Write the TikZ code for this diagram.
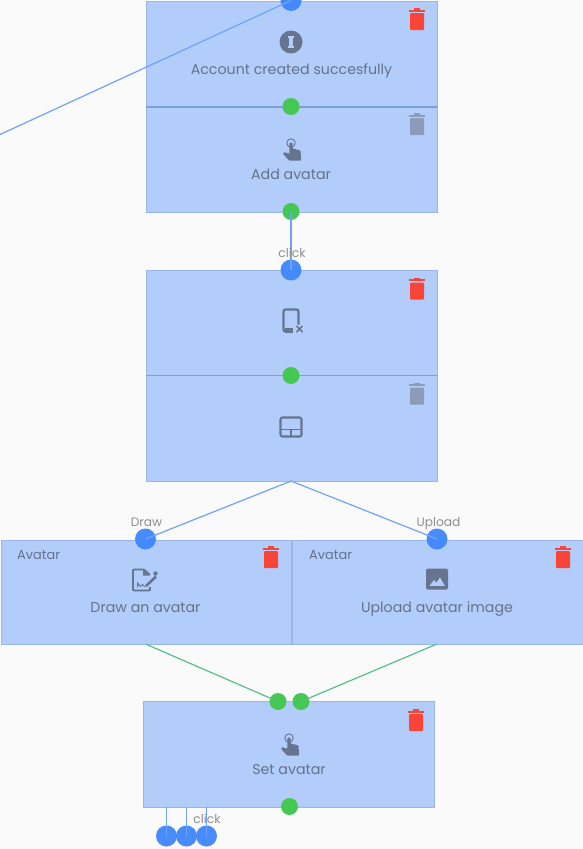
\documentclass[tikz,border=0pt]{standalone}
\usepackage{fontspec}
\setmainfont{Poppins}
\definecolor{bgc}{HTML}{FAFAFA}
\definecolor{boxfill}{HTML}{B3CDFB}
\definecolor{boxline}{HTML}{9AB6E8}
\definecolor{divline}{HTML}{7A9FDE}
\definecolor{portblue}{HTML}{3F87FD}
\definecolor{portgreen}{HTML}{44C852}
\definecolor{linkblue}{HTML}{6FA3FB}
\definecolor{linkgreen}{HTML}{56BF8A}
\definecolor{inkc}{HTML}{66718A}
\definecolor{iconc}{HTML}{66748F}
\definecolor{labelc}{HTML}{8E8E8E}
\definecolor{trashred}{HTML}{F94537}
\definecolor{trashgrey}{HTML}{8B9BB8}
\tikzset{
  x=1pt,y=-1pt,
  flowbox/.style={draw=boxline,fill=boxfill,line width=1pt,inner sep=0pt,outer sep=0pt,anchor=north west},
  divider/.style={draw=divline,line width=1.2pt},
  blueport/.style={circle,fill=portblue,fill opacity=0.95,inner sep=0pt,minimum size=21pt},
  greenport/.style={circle,fill=portgreen,inner sep=0pt,minimum size=17pt},
  bluelink/.style={draw=linkblue,line width=1.2pt},
  greenlink/.style={draw=linkgreen,line width=1.2pt},
  caption/.style={text=inkc,font=\fontsize{14.2pt}{16pt}\selectfont,inner sep=0pt,anchor=base},
  groupname/.style={text=inkc,font=\fontsize{12.9pt}{14pt}\selectfont,inner sep=0pt,anchor=base west},
  portlabel/.style={text=labelc,font=\fontsize{12.2pt}{14pt}\selectfont,inner sep=0pt,anchor=base},
  pics/trash/.style={code={
    \fill[#1,rounded corners=1pt] (-7,-6) rectangle (7,11);
    \fill[#1] (-8.3,-9.2) rectangle (8.3,-7.2);
    \fill[#1] (-3.2,-10.6) rectangle (3.2,-9);
  }},
  pics/hand/.style={code={
    \draw[iconc,line width=0.9pt] (0,-7) circle (4.2);
    \fill[iconc,rounded corners=0.8pt] (-1.6,-7.3) -- (1.6,-7.3) -- (1.6,-1.5) -- (9.5,0.5) -- (10.2,10.5) -- (-2,10.5) -- (-8,3.8) -- (-7,2) -- (-1.6,3.8) -- cycle;
  }},
  pics/infoicon/.style={code={
    \fill[iconc] (0,0) circle (11.5);
    \fill[boxfill] (-3.4,-6) rectangle (3.4,-4);
    \fill[boxfill] (-3.4,4) rectangle (3.4,6);
    \fill[boxfill] (-1.6,-5) rectangle (1.6,5);
  }},
  pics/phoneoff/.style={code={
    \draw[iconc,line width=2.2pt,rounded corners=2pt] (7.5,4) -- (7.5,-11) -- (-7.5,-11) -- (-7.5,11) -- (1,11);
    \fill[iconc] (-6.5,7) rectangle (2,12);
    \draw[iconc,line width=1.7pt] (5.5,5.5) -- (11.5,11.5) (11.5,5.5) -- (5.5,11.5);
  }},
  pics/padicon/.style={code={
    \draw[iconc,line width=2.1pt,rounded corners=2pt] (-10.5,-9.5) rectangle (10.5,9.5);
    \draw[iconc,line width=1.7pt] (-10.5,2.5) -- (10.5,2.5) (0,2.5) -- (0,9.5);
  }},
  pics/drawicon/.style={code={
    \draw[iconc,line width=1.9pt,rounded corners=1pt] (-13,-3) -- (-13,-10.5) -- (-2,-10.5) -- (4,-5);
    \draw[iconc,line width=1.9pt,rounded corners=1pt] (-13,-4) -- (-13,10.5) -- (4,10.5) -- (4,7);
    \fill[iconc] (-3,-10.5) -- (-3,-4.5) -- (3,-4.5) -- cycle;
    \draw[iconc,line width=1pt] (-8.5,7) -- (-8.5,3) -- (-5.5,6.5) -- (-3.5,4.5) -- (-1,7);
    \draw[iconc,line width=2.6pt] (0,6) -- (10,-3.5);
    \fill[iconc] (9.5,-6.5) circle (2.2);
  }},
  pics/imageicon/.style={code={
    \fill[iconc,rounded corners=1.5pt] (-11,-10.5) rectangle (11,10.5);
    \fill[boxfill] (-7.5,6.8) -- (-3,1) -- (-0.5,3.5) -- (3,-1.5) -- (7.8,6.8) -- cycle;
  }},
}
\begin{document}
\begin{tikzpicture}
\useasboundingbox (0,0) rectangle (582,849);
\fill[bgc] (0,0) rectangle (582,849);

% boxes
\node[flowbox,minimum width=291pt,minimum height=211pt] (created) at (146,1) {};
\node[flowbox,minimum width=291pt,minimum height=211pt] (screen) at (146,270.5) {};
\node[flowbox,minimum width=290.5pt,minimum height=104pt] (drawbox) at (1,540) {};
\node[flowbox,minimum width=295pt,minimum height=104pt] (uploadbox) at (292.5,540) {};
\node[flowbox,minimum width=291pt,minimum height=105.5pt] (setbox) at (143.5,701.5) {};
\draw[divider] (created.west |- 0,107) -- (created.east |- 0,107);
\draw[divider] (screen.west |- 0,375.5) -- (screen.east |- 0,375.5);

% captions
\node[caption] (t1) at (291.5,74) {Account created succesfully};
\node[caption] (t2) at (291,179) {Add avatar};
\node[caption] (t3) at (145.5,612) {Draw an avatar};
\node[caption] (t4) at (437,612) {Upload avatar image};
\node[caption] (t5) at (289,774) {Set avatar};
\node[groupname] (t6) at (17,559.5) {Avatar};
\node[groupname] (t7) at (309,559.5) {Avatar};

% icons
\pic at (291,42) {infoicon};
\pic at (291,150) {hand};
\pic at (291,320.5) {phoneoff};
\pic at (291,427) {padicon};
\pic at (146,580) {drawicon};
\pic at (437,579) {imageicon};
\pic at (289,745) {hand};

% trash
\pic at (417,19) {trash=trashred};
\pic at (417,124) {trash=trashgrey};
\pic at (417,288.5) {trash=trashred};
\pic at (417,393.5) {trash=trashgrey};
\pic at (271,557) {trash=trashred};
\pic at (563,557) {trash=trashred};
\pic at (416,720) {trash=trashred};

% ports
\node[blueport] (pTop) at (291,0.5) {};
\node[greenport] (g1) at (291,106.5) {};
\node[greenport] (g2) at (291,211.5) {};
\node[blueport] (p2) at (291,270) {};
\node[greenport] (g3) at (291,375.5) {};
\coordinate (apex) at (291,481);
\node[blueport] (pDraw) at (145.5,539) {};
\node[blueport] (pUpload) at (437,539) {};
\coordinate (dOut) at (145.5,644);
\coordinate (uOut) at (437,644);
\node[greenport] (gA) at (278,701.5) {};
\node[greenport] (gB) at (301,701.5) {};
\node[greenport] (g5) at (289.5,806.5) {};
\node[blueport] (b1) at (166.5,836) {};
\node[blueport] (b2) at (186.5,836) {};
\node[blueport] (b3) at (206.5,836) {};
\coordinate (s1) at (166.5,807);
\coordinate (s2) at (186.5,807);
\coordinate (s3) at (206.5,807);
\coordinate (leftEnd) at (0,134.5);

% connectors
\draw[bluelink] (leftEnd) -- (pTop.center);
\draw[bluelink] (g2.center) -- (p2.center);
\draw[bluelink] (apex) -- (pDraw.center);
\draw[bluelink] (apex) -- (pUpload.center);
\draw[greenlink] (dOut) -- (gA.center);
\draw[greenlink] (uOut) -- (gB.center);
\draw[bluelink] (s1) -- (b1.center);
\draw[bluelink] (s2) -- (b2.center);
\draw[bluelink] (s3) -- (b3.center);

% port labels
\node[portlabel] (l1) at (292,257) {click};
\node[portlabel] (l2) at (146.5,526) {Draw};
\node[portlabel] (l3) at (438.5,526) {Upload};
\node[portlabel] (l4) at (207,823) {click};
\end{tikzpicture}
\end{document}
